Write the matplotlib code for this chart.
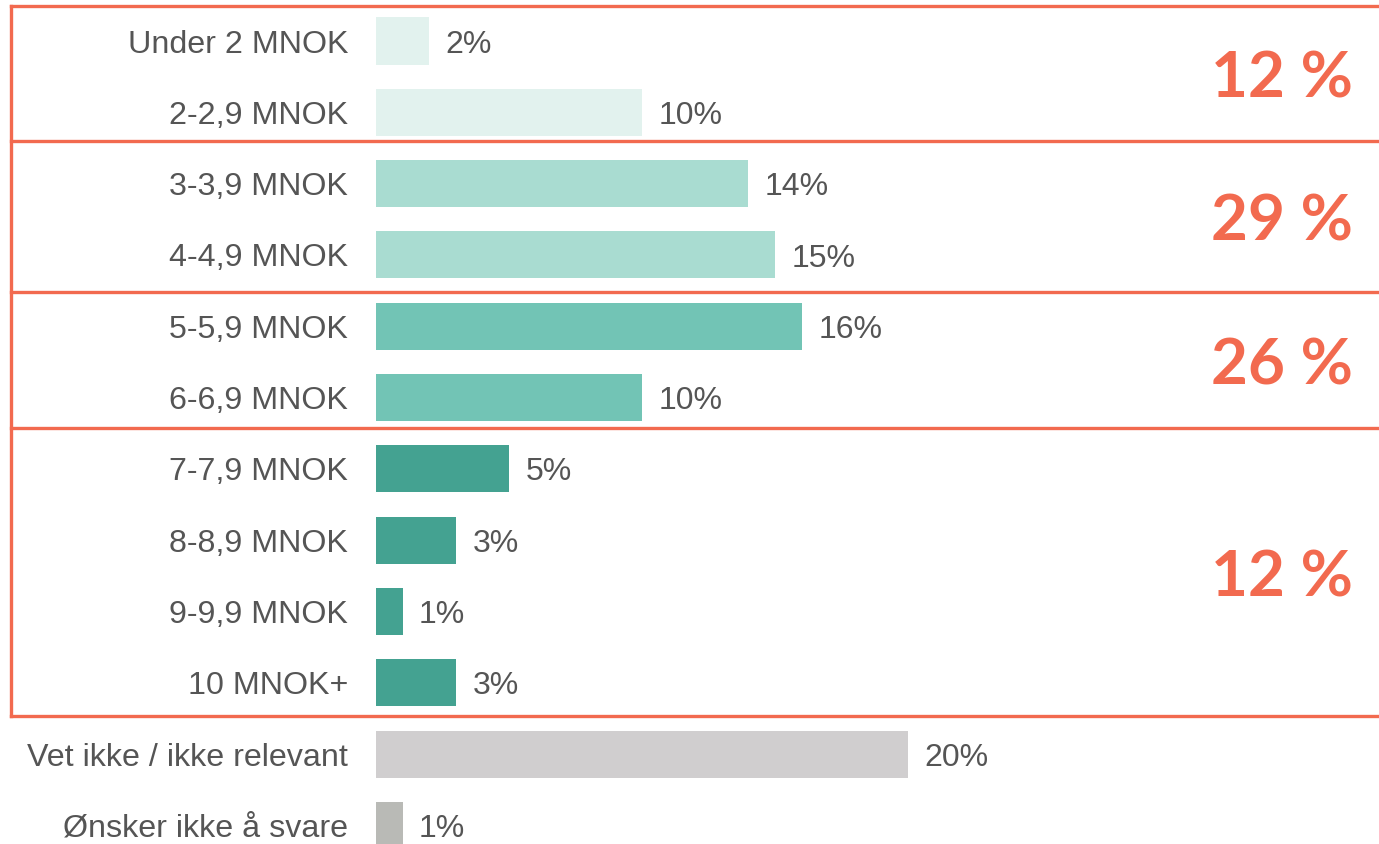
import matplotlib
matplotlib.use('Agg')
import matplotlib.pyplot as plt
import matplotlib.transforms as mtransforms

# categories and values (percent of respondents)
labels = ['Under 2 MNOK', '2-2,9 MNOK', '3-3,9 MNOK', '4-4,9 MNOK', '5-5,9 MNOK',
          '6-6,9 MNOK', '7-7,9 MNOK', '8-8,9 MNOK', '9-9,9 MNOK', '10 MNOK+',
          'Vet ikke / ikke relevant', 'Ønsker ikke å svare']
values = [2, 10, 14, 15, 16, 10, 5, 3, 1, 3, 20, 1]
colors = ['#e2f2ee', '#e2f2ee', '#a9dcd1', '#a9dcd1', '#72c4b5', '#72c4b5',
          '#44a291', '#44a291', '#44a291', '#44a291', '#d0cecf', '#b9bab6']

# group totals shown in the orange boxes
group_labels = ['12 %', '29 %', '26 %', '12 %']

orange = '#f26a4f'
grey = '#555555'

plt.rcParams['font.family'] = ['Liberation Sans', 'DejaVu Sans']

fig = plt.figure(figsize=(13.79, 8.44), dpi=100)
ax = fig.add_axes([376 / 1379, 0, 1 - 376 / 1379, 1])

y = list(range(len(labels)))
ax.barh(y, values, height=0.66, color=colors)

ax.set_xlim(0, 37.7)
ax.set_ylim(11.26, -0.575)

ax.set_yticks(y)
ax.set_yticklabels(labels, fontsize=23.2, color=grey)
ax.tick_params(axis='y', length=0, pad=20)
ax.set_xticks([])
for s in ax.spines.values():
    s.set_visible(False)

# value labels
for i, v in enumerate(values):
    ax.text(v + 0.62, i + 0.05, str(v) + '%', va='center', ha='left', fontsize=23, color=grey)

# orange group frames (x in figure coords, y in data coords)
trans = mtransforms.blended_transform_factory(fig.transFigure, ax.transData)
bounds = [-0.49, 1.40, 3.52, 5.43, 9.47]
x0 = 11 / 1379
for b in bounds:
    ax.plot([x0, 1], [b, b], color=orange, lw=2.4, transform=trans, clip_on=False)
ax.plot([x0, x0], [bounds[0], bounds[-1]], color=orange, lw=2.4, transform=trans, clip_on=False)

# group totals
for k, txt in enumerate(group_labels):
    top, bottom = bounds[k], bounds[k + 1]
    ax.text(1353 / 1379, (top + bottom) / 2 + 0.08, txt, transform=trans, ha='right', va='center',
            fontsize=46, fontweight='bold', color=orange, family='Lato')

fig.savefig('out.png', dpi=100)
